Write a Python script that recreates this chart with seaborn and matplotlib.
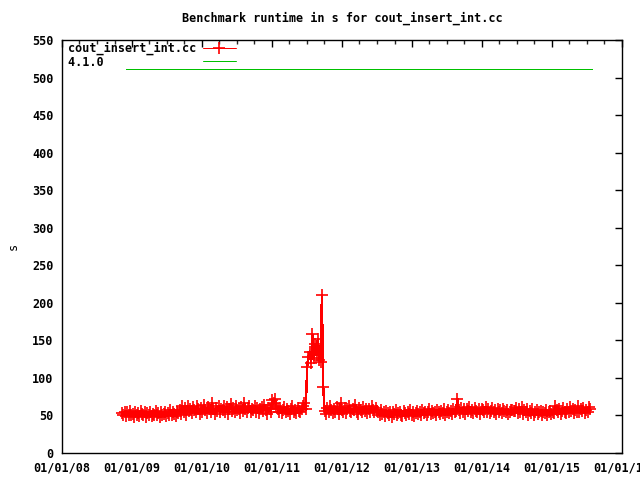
import matplotlib
matplotlib.use("Agg")
import matplotlib.pyplot as plt
import matplotlib.dates as mdates
import seaborn as sns
import pandas as pd
import numpy as np

# weekly benchmark runs, starting 2008-11-09
run_start = "2008-11-09"
runtime_s = [
    # late 2008 - autumn 2009
    53, 50, 55, 49, 54, 51, 56, 50, 52, 48, 55, 51, 53, 49, 56, 52, 50, 54, 48, 53, 51, 55,
    49, 52, 50, 56, 51, 53, 48, 54, 50, 52, 55, 49, 53, 51, 57, 50, 54, 52, 49, 55, 53,
    # autumn 2009 - end 2010
    57, 52, 62, 55, 60, 51, 63, 56, 59, 53, 61, 57, 54, 62, 58, 52, 60, 55, 64, 57, 53, 61, 59,
    55, 66, 58, 52, 60, 56, 62, 54, 59, 57, 63, 55, 61, 52, 58, 65, 56, 60, 54, 62, 57, 59, 53,
    61, 56, 67, 58, 55, 60, 63, 54, 59, 57, 62, 55, 60, 53, 58, 61, 56, 64, 57, 52, 60, 58, 55,
    # first half 2011
    70, 66, 72, 62, 58, 55, 60, 53, 57, 61, 54, 59, 56, 52, 58, 62, 55, 57, 53, 60, 56, 54, 59,
    62, 66, 58,
    # summer 2011 regression
    115, 128, 135, 120, 158, 126, 145, 130, 152, 124, 121, 210, 88,
    # autumn 2011 - mid 2012
    56, 52, 60, 55, 62, 57, 53, 59, 54, 61, 58, 52, 66, 57, 55, 60, 53, 58, 62, 56, 54, 59, 57,
    64, 55, 52, 60, 57, 54, 61, 56, 59, 53, 58, 55, 62, 57, 54, 60, 56,
    # mid 2012 - summer 2013
    54, 50, 57, 52, 55, 49, 56, 53, 51, 55, 48, 54, 52, 57, 50, 53, 55, 51, 49, 56, 53, 50, 54,
    52, 57, 51, 55, 49, 53, 56, 52, 54, 50, 57, 53, 55, 51, 54, 58, 52, 56, 53, 55, 50, 57, 54,
    52, 56, 53, 58, 51, 55, 57, 53, 56, 52, 58, 54, 56,
    72,
    # autumn 2013 - mid 2014
    57, 53, 60, 55, 58, 52, 59, 56, 61, 54, 57, 53, 60, 56, 55, 58, 52, 59, 57, 54, 61, 55, 58,
    53, 56, 60, 54, 57, 52, 59, 55, 57, 53, 58, 56, 54, 57, 52, 55,
    57, 57, 56,
    # mid 2014 - summer 2015
    56, 60, 53, 58, 55, 61, 52, 57, 54, 59, 51, 56, 53, 58, 50, 55, 57, 52, 54, 56, 51, 55, 53,
    57, 50, 54, 56, 52, 55, 53, 62, 57, 54, 58, 52, 56, 60, 55, 53, 58, 54, 61, 56, 59, 53, 57,
    55, 62, 54, 58, 56, 60, 53, 57, 55, 61, 58,
]
run_dates = pd.date_range(run_start, periods=len(runtime_s), freq="7D")

ref_dates = pd.to_datetime(["2008-11-28", "2015-07-26"])
ref_runtime = [512, 512]

series_name = "cout_insert_int.cc"
ref_name = "4.1.0"

sns.set_style("white")
plt.rcParams["font.family"] = ["DejaVu Sans Mono"]
plt.rcParams["font.weight"] = "bold"
plt.rcParams["font.size"] = 8.5
plt.rcParams["text.color"] = "black"
plt.rcParams["axes.labelcolor"] = "black"

fig = plt.figure(figsize=(6.4, 4.8), dpi=100)
ax = fig.add_axes([62 / 640, 1 - 453 / 480, 560 / 640, 413 / 480])

one_px = 0.72  # one pixel at 100 dpi, in points

# pad the shorter key label so both key samples line up (monospace font)
width = max(len(series_name), len(ref_name))
sns.lineplot(x=run_dates, y=runtime_s, ax=ax, color="#ff0000", linewidth=1.0,
             marker="+", markersize=8, markeredgewidth=1.2, markeredgecolor="#ff0000",
             antialiased=False, label=series_name.ljust(width))
sns.lineplot(x=ref_dates, y=ref_runtime, ax=ax, color="#00c000", linewidth=one_px,
             antialiased=False, label=ref_name.ljust(width))

ax.set_xlim(pd.Timestamp("2008-01-01"), pd.Timestamp("2016-01-01"))
ax.set_ylim(0, 550)
ax.set_yticks(np.arange(0, 551, 50))
ax.xaxis.set_major_locator(mdates.YearLocator())
ax.xaxis.set_minor_locator(mdates.MonthLocator(bymonth=[4, 7, 10]))
ax.xaxis.set_major_formatter(mdates.DateFormatter("%m/%d/%y"))

ax.tick_params(axis="both", which="major", direction="in", length=5, width=1,
               top=True, right=True, pad=6, labelsize=8.5, colors="black")
ax.tick_params(axis="x", which="minor", direction="in", length=3, width=1, top=True)
for sp in ax.spines.values():
    sp.set_color("black")
    sp.set_linewidth(1)

ax.set_title("Benchmark runtime in s for cout_insert_int.cc", fontsize=8.5,
             fontweight="bold", pad=13, color="black")
ax.set_xlabel("")
ax.set_ylabel("s", labelpad=9)

leg = ax.legend(loc="upper left", bbox_to_anchor=(2 / 560, 1 + 2 / 413), frameon=False,
                markerfirst=False, handlelength=2.8, labelspacing=0.05,
                borderaxespad=0.1, borderpad=0.2, handletextpad=0.6, fontsize=8.5)
for h in leg.legend_handles:
    h.set_linewidth(one_px)

fig.savefig("out.png", dpi=100)
